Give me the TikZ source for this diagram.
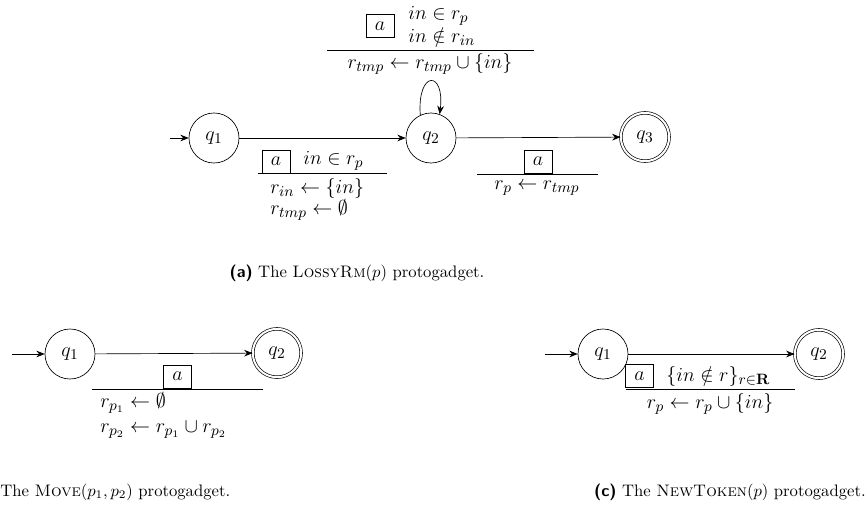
\documentclass[tikz,border=0pt]{standalone}
\usetikzlibrary{arrows.meta}
\begin{document}
\begin{tikzpicture}[x=0.6pt,y=-0.6pt,
  dfont/.style={font=\fontsize{12.8}{15}\selectfont},
  state/.style={circle,draw,minimum size=30pt,inner sep=0pt,dfont},
  accept/.style={state,double,double distance=1.2pt,minimum size=29pt},
  arr/.style={-{Stealth[length=5pt,width=4pt]}},
  abox/.style={draw,minimum width=17pt,minimum height=14pt,inner sep=0pt,dfont},
  lbl/.style={inner sep=0pt,dfont},
  captext/.style={inner sep=0pt}]
\useasboundingbox (0,0) rectangle (868,516);
% ---------- (a) ----------
\node[state] (a1) at (214,138) {$q_1$};
\node[state] (a2) at (431,138) {$q_2$};
\node[accept] (a3) at (645,137) {$q_3$};
\coordinate (a0) at (170,138);
\draw[arr] (a0) -- (a1);
\draw[arr] (a1) -- (a2);
\draw[arr] (a2) -- (a3);
\draw[arr] (a2.115) .. controls (417,70) and (445,70) .. (a2.70);
% label q1->q2
\node[abox] (b1) at (276,161.5) {$a$};
\node[lbl,anchor=west] (g1) at (303,161) {$in \in r_p$};
\coordinate (l1a) at (258,173); \coordinate (l1b) at (387,173);
\draw (l1a) -- (l1b);
\node[lbl,anchor=west] (u1) at (270,188) {$r_{in} \leftarrow \{in\}$};
\node[lbl,anchor=west] (u2) at (270,210) {$r_{tmp} \leftarrow \emptyset$};
% loop label
\node[abox] (b2) at (380,26) {$a$};
\node[lbl,anchor=west,align=left,font=\fontsize{12.8}{13.8}\selectfont] (g2) at (408,25.5) {$in \in r_p$\\$in \notin r_{in}$};
\coordinate (l2a) at (327,50); \coordinate (l2b) at (534,50);
\draw (l2a) -- (l2b);
\node[lbl] (u3) at (430,64) {$r_{tmp} \leftarrow r_{tmp} \cup \{in\}$};
% label q2->q3
\node[abox] (b3) at (538,161.5) {$a$};
\coordinate (l3a) at (477,174); \coordinate (l3b) at (598,174);
\draw (l3a) -- (l3b);
\node[lbl] (u4) at (537,188) {$r_p \leftarrow r_{tmp}$};
\node[captext] (capa) at (357,273) {\textsf{\textbf{(a)}} The \textsc{LossyRm}$(p)$ protogadget.};
% ---------- (b) ----------
\node[state] (c1) at (70,354) {$q_1$};
\node[accept] (c2) at (277,353) {$q_2$};
\coordinate (c0) at (12,354);
\draw[arr] (c0) -- (c1);
\draw[arr] (c1) -- (c2);
\node[abox] (b4) at (177.5,376.5) {$a$};
\coordinate (l4a) at (92,389); \coordinate (l4b) at (263,389);
\draw (l4a) -- (l4b);
\node[lbl,anchor=west] (u5) at (100,403) {$r_{p_1} \leftarrow \emptyset$};
\node[lbl,anchor=west] (u6) at (100,430) {$r_{p_2} \leftarrow r_{p_1} \cup r_{p_2}$};
\node[captext,anchor=west] (capb) at (0,492) {The \textsc{Move}$(p_1,p_2)$ protogadget.};
% ---------- (c) ----------
\node[state] (d1) at (603,354) {$q_1$};
\node[accept] (d2) at (819,354) {$q_2$};
\coordinate (d0) at (545,354);
\draw[arr] (d0) -- (d1);
\draw[arr] (d1) -- (d2);
\node[abox] (b5) at (639.5,376) {$a$};
\node[lbl,anchor=west] (g5) at (666,376) {$\{in \notin r\}_{r\in\mathbf{R}}$};
\coordinate (l5a) at (626,389); \coordinate (l5b) at (795,389);
\draw (l5a) -- (l5b);
\node[lbl] (u7) at (710,404) {$r_p \leftarrow r_p \cup \{in\}$};
\node[captext,anchor=east] (capc) at (866,492) {\textsf{\textbf{(c)}} The \textsc{NewToken}$(p)$ protogadget.};
\end{tikzpicture}
\end{document}
